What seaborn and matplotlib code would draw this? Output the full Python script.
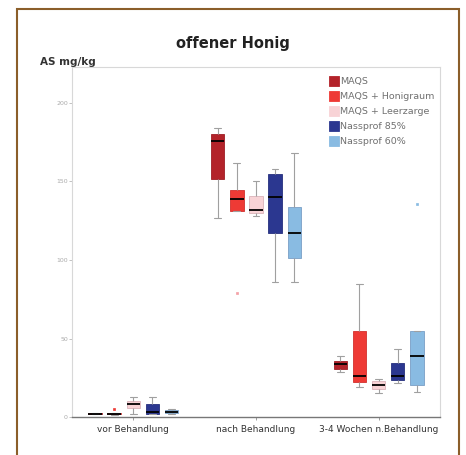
import matplotlib
matplotlib.use('Agg')
import matplotlib.pyplot as plt
import matplotlib.patches as mpatches
import matplotlib.colors as mcolors
import numpy as np
import pandas as pd
import seaborn as sns

groups = ['vor Behandlung', 'nach Behandlung', '3-4 Wochen n.Behandlung']
series = ['MAQS', 'MAQS + Honigraum', 'MAQS + Leerzarge', 'Nassprof 85%', 'Nassprof 60%']
colors = ['#B3232A', '#EE3A35', '#F8D3D6', '#2B3790', '#89BBE2']

# five-number summaries, one value per group
whis_lo = {
    'MAQS': [1.6, 127, 28.5],
    'MAQS + Honigraum': [1.4, 131, 19.3],
    'MAQS + Leerzarge': [2.1, 128, 15.0],
    'Nassprof 85%': [2.0, 86, 21.9],
    'Nassprof 60%': [2.1, 86, 16.1],
}
q1 = {
    'MAQS': [1.8, 151.6, 30.6],
    'MAQS + Honigraum': [1.6, 131, 22.5],
    'MAQS + Leerzarge': [5.5, 129.7, 17.8],
    'Nassprof 85%': [2.1, 117, 23.6],
    'Nassprof 60%': [2.3, 101, 20.4],
}
median = {
    'MAQS': [2.1, 176, 33.8],
    'MAQS + Honigraum': [2.0, 138.6, 26.3],
    'MAQS + Leerzarge': [8.5, 131.8, 20.4],
    'Nassprof 85%': [3.0, 140, 26.3],
    'Nassprof 60%': [3.4, 117, 39.0],
}
q3 = {
    'MAQS': [2.4, 180, 35.7],
    'MAQS + Honigraum': [2.4, 144.6, 54.8],
    'MAQS + Leerzarge': [10.2, 141, 23.0],
    'Nassprof 85%': [8.5, 155, 34.2],
    'Nassprof 60%': [4.6, 134, 54.8],
}
whis_hi = {
    'MAQS': [2.6, 184, 39.0],
    'MAQS + Honigraum': [2.6, 161.6, 85.0],
    'MAQS + Leerzarge': [12.9, 150, 24.2],
    'Nassprof 85%': [12.9, 158, 43.3],
    'Nassprof 60%': [4.8, 168, 54.8],
}
outliers = {
    ('MAQS + Honigraum', 0): 5.3,
    ('MAQS + Honigraum', 1): 79.0,
    ('Nassprof 60%', 2): 135.7,
}
outlier_colors = {5.3: '#EE3A35', 79.0: '#F4A0A6', 135.7: '#89BBE2'}

rows = []
for s in series:
    for gi, g in enumerate(groups):
        vals = [whis_lo[s][gi], q1[s][gi], q1[s][gi], median[s][gi], median[s][gi],
                median[s][gi], q3[s][gi], q3[s][gi], whis_hi[s][gi]]
        out = outliers.get((s, gi))
        if out is not None:
            if out > q3[s][gi]:
                vals = vals[:7] + [whis_hi[s][gi], out]
            else:
                vals = [out, whis_lo[s][gi]] + vals[2:]
        for v in vals:
            rows.append({'group': g, 'series': s, 'value': v})
df = pd.DataFrame(rows)

sns.set_style('white')
fig = plt.figure(figsize=(4.66, 4.55), dpi=100)
ax = fig.add_axes([0.1545, 0.0835, 0.7895, 0.7695])

sns.boxplot(data=df, x='group', y='value', hue='series', order=groups, hue_order=series,
            palette=colors, saturation=1, width=0.78, gap=0.3, linewidth=0.8,
            linecolor='#a0a0a0',
            medianprops={'color': 'black', 'linewidth': 1.3},
            flierprops={'marker': 's', 'markersize': 1.6, 'markeredgewidth': 0.5},
            ax=ax)

# box outlines a shade darker than the fill, outliers coloured like their box
for p in ax.patches:
    r, g, b, a = p.get_facecolor()
    p.set_edgecolor((r * 0.88, g * 0.85, b * 0.87))
    p.set_linewidth(0.6)
for line in ax.lines:
    if line.get_marker() == 's':
        yd = line.get_ydata()
        if len(yd):
            c = outlier_colors.get(round(float(yd[0]), 1), '#999999')
            line.set_markerfacecolor(c)
            line.set_markeredgecolor(c)

ax.set_ylim(0, 223)
ax.set_yticks([0, 50, 100, 150, 200])
ax.set_yticklabels(['0', '50', '100', '150', '200'], fontsize=4.5, color='#aaaaaa')
ax.tick_params(axis='y', length=2, width=0.5, color='#aaaaaa', pad=1, left=True)
ax.tick_params(axis='x', length=2, width=0.5, color='#777777', labelsize=6.5, labelcolor='#333333',
               pad=4, bottom=True)
ax.set_xlabel('')
ax.set_ylabel('')
for side in ['top', 'right', 'left']:
    ax.spines[side].set_color('#d8d8d8')
    ax.spines[side].set_linewidth(0.8)
ax.spines['bottom'].set_color('#777777')
ax.spines['bottom'].set_linewidth(1.0)

leg = ax.legend(loc='upper right', bbox_to_anchor=(1.0, 0.99), frameon=False, fontsize=6.8,
                handlelength=1.1, handleheight=1.3, handletextpad=0.05, labelspacing=0.5,
                borderaxespad=0.2)
for t in leg.get_texts():
    t.set_color('#707070')
for h, c in zip(leg.legend_handles, colors):
    h.set_facecolor(c)
    h.set_edgecolor(c)

fig.text(0.5, 0.905, 'offener Honig', ha='center', va='center', fontsize=10.5,
         fontweight='bold', color='#222222')
fig.text(0.086, 0.864, 'AS mg/kg', ha='left', va='center', fontsize=7.5,
         fontweight='bold', color='#333333')

fig.patches.append(mpatches.Rectangle((0.037, -0.05), 0.948, 1.03, transform=fig.transFigure,
                                      fill=False, edgecolor='#8B5E2A', linewidth=1.5))

fig.savefig('out.png', dpi=100)
